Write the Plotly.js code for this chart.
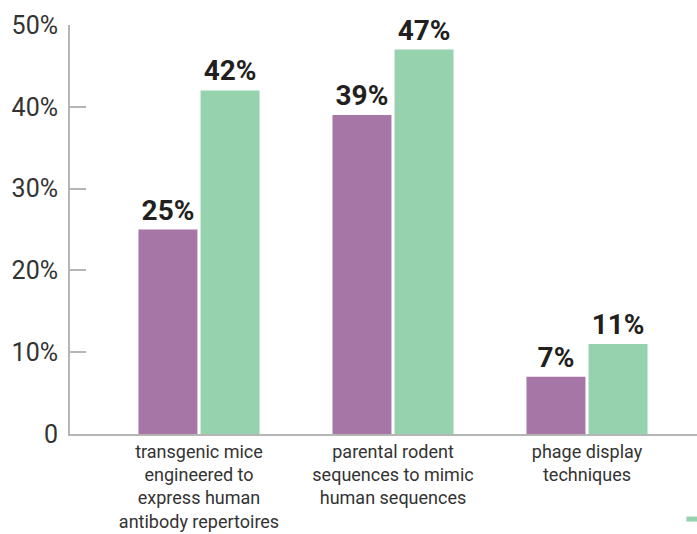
<!DOCTYPE html>
<html>
<head>
<meta charset="utf-8">
<script src="https://cdn.plot.ly/plotly-3.0.1.min.js"></script>
<style>html,body{margin:0;padding:0;background:#fff;}#chart{width:697px;height:534px;}</style>
</head>
<body>
<div id="chart"></div>
<script>
const categories = [
  "transgenic mice<br>engineered to<br>express human<br>antibody repertoires",
  "parental rodent<br>sequences to mimic<br>human sequences",
  "phage display<br>techniques"
];
const seriesA = [25, 39, 7];
const seriesB = [42, 47, 11];
const yTickVals = [0, 10, 20, 30, 40, 50];
const yTickText = ["0", "10%", "20%", "30%", "40%", "50%"];

const labelFont = {family: "Roboto, 'Noto Sans', sans-serif", size: 28, color: "#231f20", weight: 700};

const traces = [
  {
    type: "bar", x: [0, 1, 2], y: seriesA,
    marker: {color: "#a676a6"},
    text: seriesA.map(v => "<b>" + v + "%</b>"),
    textposition: "outside", textfont: labelFont, cliponaxis: false,
    hoverinfo: "none"
  },
  {
    type: "bar", x: [0, 1, 2], y: seriesB,
    marker: {color: "#96d2ae"},
    text: seriesB.map(v => "<b>" + v + "%</b>"),
    textposition: "outside", textfont: labelFont, cliponaxis: false,
    hoverinfo: "none"
  }
];

const layout = {
  width: 697, height: 534,
  margin: {l: 70, r: 0, t: 25, b: 100},
  paper_bgcolor: "#fff", plot_bgcolor: "#fff",
  showlegend: false,
  barmode: "group", bargap: 0.36, bargroupgap: 0.05,
  font: {family: "Roboto, 'Noto Sans', sans-serif", color: "#333"},
  xaxis: {
    range: [-0.665, 2.567],
    tickvals: [0, 1, 2], ticktext: categories,
    showline: true, linecolor: "#b5b5b5", linewidth: 2,
    ticks: "", showgrid: false, zeroline: false,
    tickfont: {size: 18, color: "#333"}
  },
  yaxis: {
    range: [0, 50],
    tickvals: yTickVals, ticktext: yTickText,
    showline: true, linecolor: "#b5b5b5", linewidth: 2,
    ticks: "inside", ticklen: 16, tickwidth: 2, tickcolor: "#b5b5b5",
    showgrid: false, zeroline: false,
    tickfont: {size: 25, color: "#333"},
    ticklabelstandoff: 5
  },
  shapes: [
    {type: "line", xref: "paper", yref: "paper", x0: 0.983, x1: 1.01, y0: -0.208, y1: -0.208,
     line: {color: "#96d2ae", width: 5}}
  ]
};

Plotly.newPlot("chart", traces, layout, {staticPlot: true, displayModeBar: false});
</script>
</body>
</html>
